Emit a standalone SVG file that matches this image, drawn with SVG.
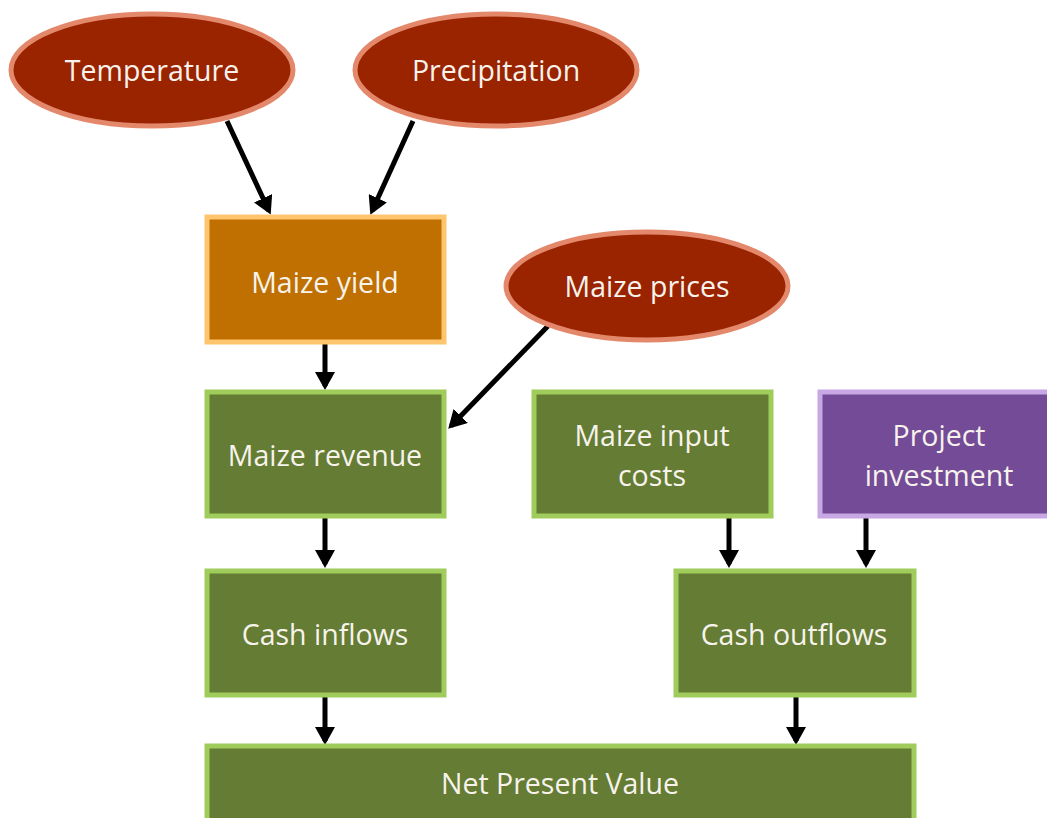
<svg xmlns="http://www.w3.org/2000/svg" width="1047" height="818" viewBox="0 0 1047 818">
  <style>
    .lbl { font-family: "Open Sans", "Liberation Sans", sans-serif; font-size: 28.5px; fill: #F7F3EC; text-anchor: middle; dominant-baseline: central; }
    .driver { fill: #9A2300; stroke: #E4886C; stroke-width: 5; }
    .yield { fill: #BF7000; stroke: #FFC46E; stroke-width: 5; }
    .calc { fill: #647C33; stroke: #A0CC5C; stroke-width: 5; }
    .invest { fill: #734B97; stroke: #C8A8E4; stroke-width: 5; }
    .edge { stroke: #000; stroke-width: 5; fill: none; marker-end: url(#head); }
  </style>
  <defs>
    <!-- solid triangular arrowhead, tip sits 4px beyond the line end -->
    <marker id="head" viewBox="0 0 18 20" refX="14" refY="10" markerWidth="18" markerHeight="20" orient="auto" markerUnits="userSpaceOnUse">
      <path d="M0,0 L18,10 L0,20 Z" fill="#000"/>
    </marker>
  </defs>
  <rect width="1047" height="818" fill="#fff"/>

  <g id="connectors">
    <line class="edge" x1="227" y1="121" x2="269" y2="211"/>
    <line class="edge" x1="413" y1="121" x2="372" y2="211"/>
    <line class="edge" x1="325" y1="344" x2="325" y2="386"/>
    <line class="edge" x1="548" y1="326" x2="451" y2="426"/>
    <line class="edge" x1="325" y1="518" x2="325" y2="564"/>
    <line class="edge" x1="729" y1="518" x2="729" y2="564"/>
    <line class="edge" x1="866" y1="518" x2="866" y2="564"/>
    <line class="edge" x1="325" y1="697" x2="325" y2="741"/>
    <line class="edge" x1="796" y1="697" x2="796" y2="741"/>
  </g>

  <g id="temperature">
    <ellipse class="driver" cx="152" cy="70" rx="141" ry="56"/>
    <text class="lbl" x="152" y="70">Temperature</text>
  </g>
  <g id="precipitation">
    <ellipse class="driver" cx="496" cy="70" rx="141" ry="56"/>
    <text class="lbl" x="496" y="70">Precipitation</text>
  </g>
  <g id="maize-yield">
    <rect class="yield" x="207" y="217" width="237" height="125"/>
    <text class="lbl" x="325" y="282">Maize yield</text>
  </g>
  <g id="maize-prices">
    <ellipse class="driver" cx="647" cy="286" rx="141" ry="54"/>
    <text class="lbl" x="647" y="286">Maize prices</text>
  </g>
  <g id="maize-revenue">
    <rect class="calc" x="207" y="392" width="237" height="124"/>
    <text class="lbl" x="325" y="455">Maize revenue</text>
  </g>
  <g id="maize-input-costs">
    <rect class="calc" x="534" y="392" width="237" height="124"/>
    <text class="lbl" x="652" y="435">Maize input</text>
    <text class="lbl" x="652" y="475">costs</text>
  </g>
  <g id="project-investment">
    <rect class="invest" x="820" y="392" width="240" height="124"/>
    <text class="lbl" x="939" y="435">Project</text>
    <text class="lbl" x="939" y="475">investment</text>
  </g>
  <g id="cash-inflows">
    <rect class="calc" x="207" y="571" width="237" height="124"/>
    <text class="lbl" x="325" y="634">Cash inflows</text>
  </g>
  <g id="cash-outflows">
    <rect class="calc" x="676" y="571" width="238" height="124"/>
    <text class="lbl" x="794" y="634">Cash outflows</text>
  </g>
  <g id="net-present-value">
    <rect class="calc" x="207" y="746" width="707" height="80"/>
    <text class="lbl" x="560" y="783">Net Present Value</text>
  </g>
</svg>
